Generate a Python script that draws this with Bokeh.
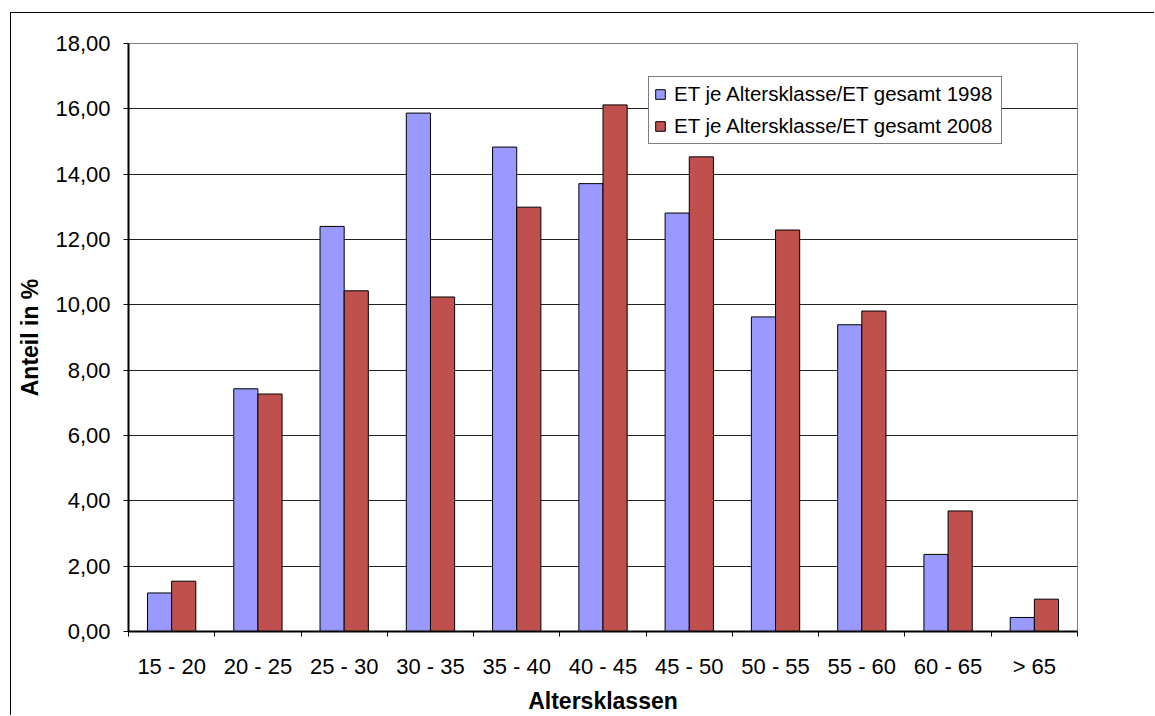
import numpy as np
from bokeh.plotting import figure
from bokeh.models import (ColumnDataSource, Range1d, FixedTicker, Legend, LegendItem)
from bokeh.embed import file_html
from bokeh.resources import INLINE

# ---- data ----
categories = ["15 - 20", "20 - 25", "25 - 30", "30 - 35", "35 - 40", "40 - 45",
              "45 - 50", "50 - 55", "55 - 60", "60 - 65", "> 65"]
share_1998 = [1.18, 7.43, 12.40, 15.87, 14.83, 13.71, 12.81, 9.63, 9.39, 2.36, 0.43]
share_2008 = [1.54, 7.27, 10.43, 10.24, 12.99, 16.12, 14.53, 12.29, 9.81, 3.69, 0.99]
series_labels = ["ET je Altersklasse/ET gesamt 1998", "ET je Altersklasse/ET gesamt 2008"]
y_ticks = [0, 2, 4, 6, 8, 10, 12, 14, 16, 18]
y_tick_labels = ["0,00", "2,00", "4,00", "6,00", "8,00", "10,00", "12,00", "14,00", "16,00", "18,00"]
x_title = "Altersklassen"
y_title = "Anteil in %"

FONT = "Liberation Sans"
n = len(categories)
centers = np.arange(n) + 0.5
bw = 0.28

src = ColumnDataSource(dict(
    x1=centers - bw / 2, x2=centers + bw / 2,
    v1=share_1998, v2=share_2008,
))

p = figure(width=1144, height=703,
           x_range=Range1d(0, n), y_range=Range1d(0, 18),
           output_backend="svg", toolbar_location=None,
           min_border_left=117, min_border_right=78,
           min_border_top=30, min_border_bottom=84)
p.styles = {"position": "relative", "left": "11px", "top": "13px",
            "box-shadow": "-1px -1px 0 0 #000000"}

p.background_fill_color = "white"
p.border_fill_color = "white"
p.outline_line_color = "#808080"
p.outline_line_width = 1

r1 = p.vbar(x="x1", top="v1", width=bw, bottom=0, source=src,
            fill_color="#9999FF", line_color="#000000", line_width=1)
r2 = p.vbar(x="x2", top="v2", width=bw, bottom=0, source=src,
            fill_color="#C0504D", line_color="#000000", line_width=1)

# grid
p.xgrid.visible = False
p.ygrid.ticker = FixedTicker(ticks=y_ticks)
p.ygrid.grid_line_color = "#222222"
p.ygrid.grid_line_width = 1

# x axis
xa = p.xaxis[0]
xa.ticker = FixedTicker(ticks=list(centers), minor_ticks=list(range(n + 1)))
xa.major_label_overrides = {float(c): lab for c, lab in zip(centers, categories)}
xa.major_tick_line_color = None
xa.minor_tick_line_color = "#000000"
xa.minor_tick_in = 0
xa.minor_tick_out = 5
xa.axis_line_width = 2
xa.axis_line_color = "#000000"
xa.major_label_text_font = FONT
xa.major_label_text_font_size = "22px"
xa.major_label_text_color = "#000000"
xa.major_label_standoff = 16
xa.axis_label = x_title
xa.axis_label_text_font = FONT
xa.axis_label_text_font_size = "23px"
xa.axis_label_text_font_style = "bold"
xa.axis_label_text_color = "#000000"
xa.axis_label_standoff = 6

# y axis
ya = p.yaxis[0]
ya.ticker = FixedTicker(ticks=y_ticks)
ya.major_label_overrides = {t: lab for t, lab in zip(y_ticks, y_tick_labels)}
ya.major_tick_in = 0
ya.major_tick_out = 5
ya.major_tick_line_color = "#000000"
ya.minor_tick_line_color = None
ya.axis_line_width = 2
ya.axis_line_color = "#000000"
ya.major_label_text_font = FONT
ya.major_label_text_font_size = "22px"
ya.major_label_text_color = "#000000"
ya.major_label_standoff = 13
ya.axis_label = y_title
ya.axis_label_text_font = FONT
ya.axis_label_text_font_size = "23px"
ya.axis_label_text_font_style = "bold"
ya.axis_label_text_color = "#000000"
ya.axis_label_standoff = 9

legend = Legend(items=[LegendItem(label=series_labels[0], renderers=[r1]),
                       LegendItem(label=series_labels[1], renderers=[r2])],
                location=(520, 487), orientation="vertical")
legend.margin = 0
legend.padding = 5
legend.spacing = 8
legend.glyph_width = 12
legend.glyph_height = 12
legend.label_height = 22
legend.label_width = 322
legend.label_standoff = 8
legend.label_text_font = FONT
legend.label_text_font_size = "20.5px"
legend.label_text_color = "#000000"
legend.border_line_color = "#000000"
legend.border_line_width = 1
legend.background_fill_color = "white"
legend.background_fill_alpha = 1
p.add_layout(legend)

open("out.html", "w").write(file_html(p, INLINE))
